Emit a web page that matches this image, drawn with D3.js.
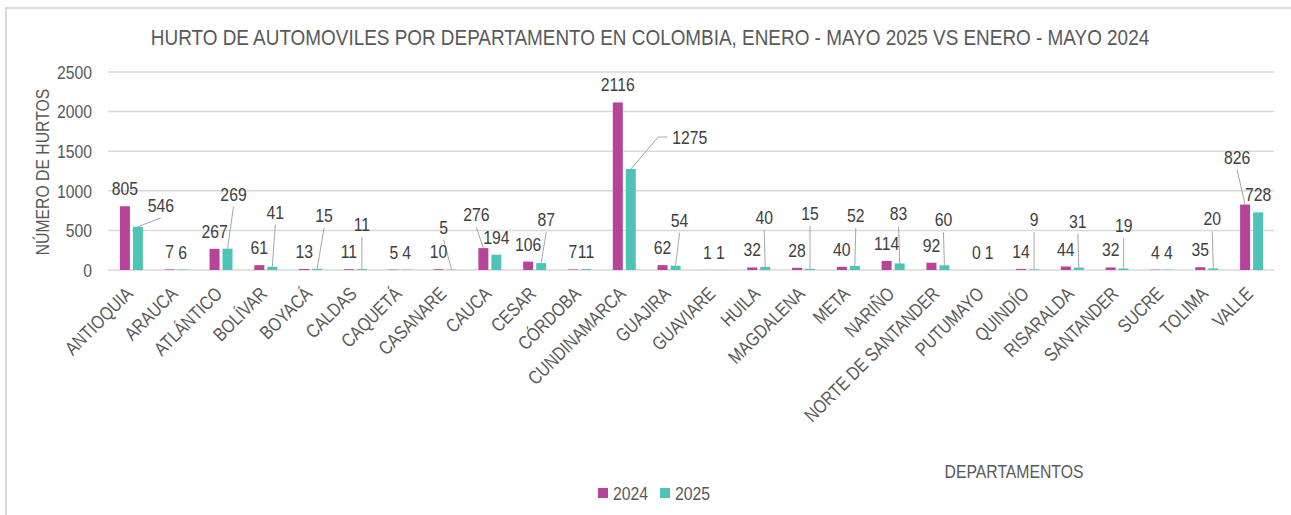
<!DOCTYPE html>
<html>
<head>
<meta charset="utf-8">
<script src="https://cdn.jsdelivr.net/npm/d3@7.9.0/dist/d3.min.js"></script>
<style>
  body { margin: 0; background: #fff; }
  svg text { font-family: "Liberation Sans", Arial, sans-serif; fill: #595959; }
</style>
</head>
<body>
<svg id="chart" width="1291" height="515"></svg>
<script>
const departamentos = ['ANTIOQUIA', 'ARAUCA', 'ATLÁNTICO', 'BOLÍVAR', 'BOYACÁ', 'CALDAS', 'CAQUETÁ',
  'CASANARE', 'CAUCA', 'CESAR', 'CÓRDOBA', 'CUNDINAMARCA', 'GUAJIRA', 'GUAVIARE', 'HUILA',
  'MAGDALENA', 'META', 'NARIÑO', 'NORTE DE SANTANDER', 'PUTUMAYO', 'QUINDÍO', 'RISARALDA',
  'SANTANDER', 'SUCRE', 'TOLIMA', 'VALLE'];
const years = ['2024', '2025'];
const hurtos2024 = [805, 7, 267, 61, 13, 11, 5, 10, 276, 106, 7, 2116, 62, 1, 32, 28, 40, 114, 92, 0, 14, 44, 32, 4, 35, 826];
const hurtos2025 = [546, 6, 269, 41, 15, 11, 4, 5, 194, 87, 11, 1275, 54, 1, 40, 15, 52, 83, 60, 1, 9, 31, 19, 4, 20, 728];
const yTicks = [0, 500, 1000, 1500, 2000, 2500];

const colors = { '2024': '#b8449a', '2025': '#4ec4b9' };

// labels that were dragged away from the bar in the original (dx, dy from default spot)
const labelNudges = {
  '2025|ANTIOQUIA': [23, -4],
  '2025|ATLÁNTICO': [6, -37],
  '2025|BOLÍVAR': [3, -37],
  '2025|BOYACÁ': [7, -36],
  '2025|CALDAS': [0, -27],
  '2025|CASANARE': [-8, -25],
  '2024|CAUCA': [-7, -16],
  '2025|CESAR': [5, -26],
  '2025|CUNDINAMARCA': [59, -14, 'side'],
  '2025|GUAJIRA': [4, -28],
  '2025|HUILA': [-1, -32],
  '2025|MAGDALENA': [0, -38],
  '2025|META': [1, -33],
  '2025|NARIÑO': [-1, -32],
  '2025|NORTE DE SANTANDER': [-1, -28],
  '2025|QUINDÍO': [0, -32],
  '2025|RISARALDA': [-1, -29],
  '2025|SANTANDER': [0, -25],
  '2025|TOLIMA': [-1, -32],
  '2024|VALLE': [-8, -30]
};

const SX = 0.83; // the original font is a condensed one, squeeze Liberation Sans to match
const svg = d3.select('#chart');
const plot = { left: 109, right: 1274, top: 72, bottom: 270 };

function put(sel, x, y, extra) {
  return sel.attr('transform', `translate(${x},${y}) ${extra || ''} scale(${SX},1)`);
}

// chart frame
svg.append('rect')
  .attr('x', 6).attr('y', 8).attr('width', 1300).attr('height', 520)
  .attr('fill', 'none').attr('stroke', '#d9d9d9').attr('stroke-width', 2);

const x0 = d3.scaleBand().domain(departamentos).range([plot.left, plot.right]);
const x1 = d3.scaleBand().domain(years).range([0, x0.bandwidth()])
  .paddingInner(0.23).paddingOuter(0.84);
const y = d3.scaleLinear().domain([0, 2500]).range([plot.bottom, plot.top]);

// gridlines
svg.append('g').selectAll('line')
  .data(yTicks)
  .join('line')
  .attr('x1', plot.left - 1).attr('x2', plot.right)
  .attr('y1', d => y(d)).attr('y2', d => y(d))
  .attr('stroke', '#d9d9d9').attr('stroke-width', 1.5);

// y axis labels
svg.append('g').selectAll('text')
  .data(yTicks)
  .join('text')
  .attr('transform', d => `translate(92,${y(d)}) scale(${SX},1)`)
  .attr('dy', '0.36em')
  .attr('text-anchor', 'end')
  .style('font-size', '19px')
  .text(d => d);

const rows = departamentos.map((dep, i) => ({ dep, values: [hurtos2024[i], hurtos2025[i]] }));
const bars = rows.flatMap(r => years.map((yr, k) => ({ dep: r.dep, year: yr, value: r.values[k] })));

svg.append('g').selectAll('rect')
  .data(bars)
  .join('rect')
  .attr('x', d => x0(d.dep) + x1(d.year))
  .attr('width', x1.bandwidth())
  .attr('y', d => y(d.value))
  .attr('height', d => y(0) - y(d.value))
  .attr('fill', d => colors[d.year]);

// data labels + leader lines
const leaders = svg.append('g');
const labels = svg.append('g');
bars.forEach(d => {
  const bx = x0(d.dep) + x1(d.year) + x1.bandwidth() / 2;
  const top = y(d.value);
  const nudge = labelNudges[d.year + '|' + d.dep];
  const dx = nudge ? nudge[0] : 0;
  const dy = nudge ? nudge[1] : 0;
  const baseline = top - 11 + dy;
  const lx = bx + dx;
  const t = put(labels.append('text'), lx, baseline)
    .attr('text-anchor', 'middle')
    .style('font-size', '19px')
    .style('fill', '#404040')
    .text(d.value);
  if (!nudge) return;
  if (nudge[2] === 'side') {
    const w = t.node().getComputedTextLength() * SX;
    const cy = baseline - 7;
    const left = lx - w / 2;
    leaders.append('polyline')
      .attr('points', [[bx, top], [left - 14, cy], [left - 5, cy]].map(p => p.join(',')).join(' '))
      .attr('fill', 'none').attr('stroke', '#a6a6a6').attr('stroke-width', 1);
  } else {
    leaders.append('line')
      .attr('x1', bx).attr('y1', top)
      .attr('x2', lx).attr('y2', baseline + 6)
      .attr('stroke', '#a6a6a6').attr('stroke-width', 1);
  }
});

// category labels, rotated; baseline end sits just under the category centre
svg.append('g').selectAll('text')
  .data(departamentos)
  .join('text')
  .attr('transform', d => `translate(${x0(d) + x0.bandwidth() / 2 + 2.5},295) rotate(-45) scale(${SX},1)`)
  .attr('text-anchor', 'end')
  .style('font-size', '19px')
  .text(d => d);

// titles
put(svg.append('text'), 650, 45)
  .attr('text-anchor', 'middle')
  .style('font-size', '22.8px')
  .text('HURTO DE AUTOMOVILES POR DEPARTAMENTO EN COLOMBIA, ENERO - MAYO 2025 VS ENERO - MAYO 2024');

svg.append('text')
  .attr('transform', `translate(49,172) rotate(-90) scale(${SX},1)`)
  .attr('text-anchor', 'middle')
  .style('font-size', '19px')
  .text('NÚMERO DE HURTOS');

put(svg.append('text'), 1014, 478)
  .attr('text-anchor', 'middle')
  .style('font-size', '19px')
  .text('DEPARTAMENTOS');

// legend
const legend = svg.append('g').attr('transform', 'translate(598,488)');
const legendItems = legend.selectAll('g')
  .data(years)
  .join('g')
  .attr('transform', (d, i) => `translate(${i * 62},0)`);
legendItems.append('rect')
  .attr('width', 10).attr('height', 10)
  .attr('fill', d => colors[d]);
legendItems.append('text')
  .attr('transform', `translate(15,12) scale(${SX},1)`)
  .style('font-size', '19px')
  .text(d => d);
</script>
</body>
</html>
